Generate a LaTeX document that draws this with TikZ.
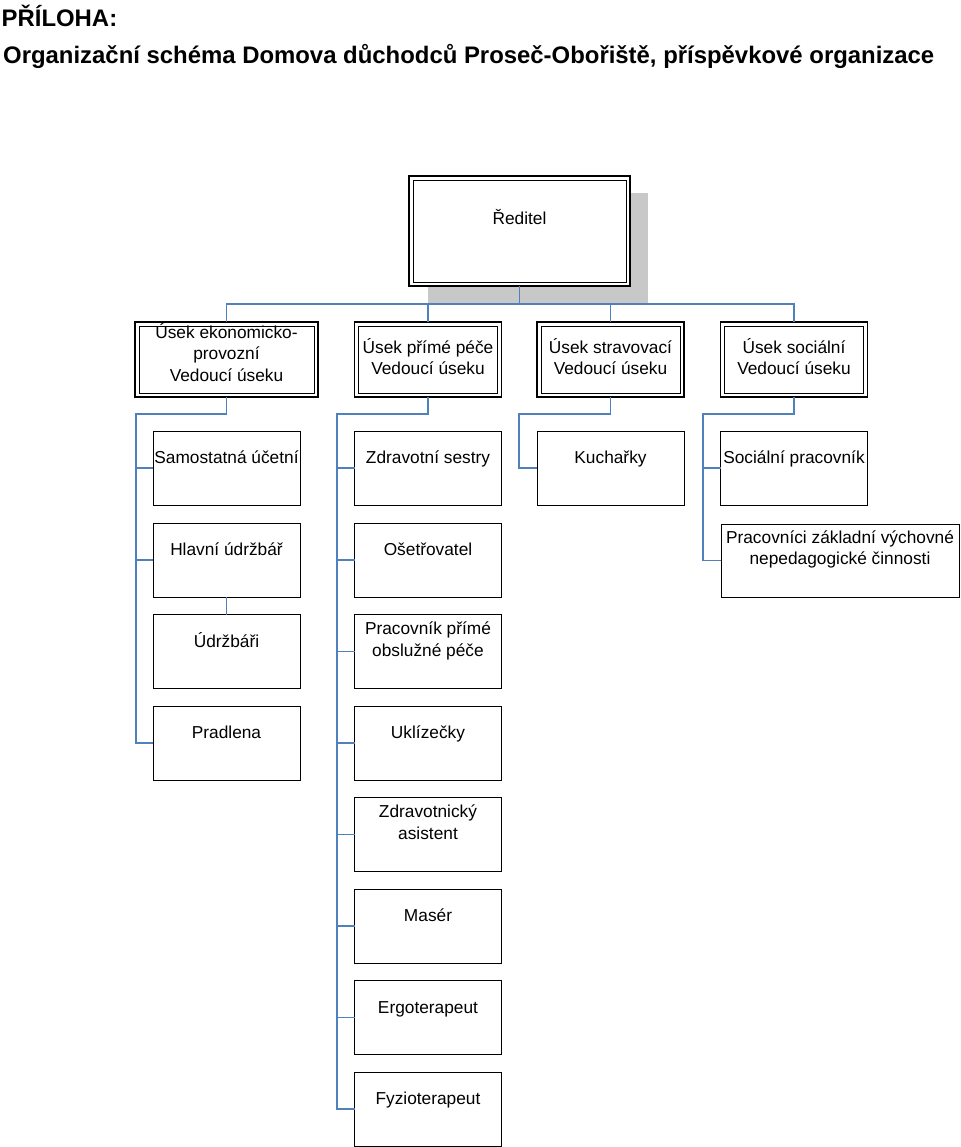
\documentclass[tikz,border=0pt]{standalone}
\usepackage{fontspec}
\setmainfont{Liberation Sans}
\usetikzlibrary{positioning}

\definecolor{linkblue}{RGB}{79,129,189}
\definecolor{shadowgray}{RGB}{200,200,200}

\tikzset{
  staffbox/.style={draw=black, line width=1pt, fill=white, minimum width=147pt, minimum height=74pt, inner sep=0pt, outer sep=0pt},
  headbox/.style={staffbox, line width=1.8pt, minimum height=75pt},
  lbl/.style={align=center, inner sep=0pt, font=\fontsize{17.3}{21.5}\selectfont},
  link/.style={draw=linkblue, line width=1.1pt},
}

\begin{document}
\begin{tikzpicture}[x=1pt,y=-1pt]
    \useasboundingbox (0,0) rectangle (960,1147);

    % Nadpis
    \node[anchor=base west, inner sep=0pt, font=\bfseries\fontsize{23.9}{28}\selectfont] (priloha) at (1.5,27) {PŘÍLOHA:};
    \node[anchor=base west, inner sep=0pt, font=\bfseries\fontsize{23.9}{28}\selectfont] (nadpis) at (3,64) {Organizační schéma Domova důchodců Proseč-Obořiště, příspěvkové organizace};

    % Stin pod reditelem
    \fill[shadowgray] (428,193) rectangle (648,303);

    % Reditel a useky
    \node[headbox, minimum width=221pt, minimum height=110pt] (reditel) at (519.5,231) {};
    \node[headbox, minimum width=183pt] (ekonom) at (226.5,359.5) {};
    \node[headbox] (pece) at (428,359.5) {};
    \node[headbox] (strava) at (610.5,359.5) {};
    \node[headbox] (social) at (794,359.5) {};
    \foreach \n in {reditel,ekonom,pece,strava,social}
        \draw[line width=0.7pt] ([shift={(4,4)}]\n.north west) rectangle ([shift={(-4,-4)}]\n.south east);

    \node[lbl, below=33pt of reditel.north] (t-reditel) {\strut Ředitel};
    \node[lbl, below=1pt of ekonom.north] (t-ekonom) {\strut Úsek ekonomicko-\\provozní\\Vedoucí úseku};
    \node[lbl, below=16pt of pece.north] (t-pece) {\strut Úsek přímé péče\\Vedoucí úseku};
    \node[lbl, below=16pt of strava.north] (t-strava) {\strut Úsek stravovací\\Vedoucí úseku};
    \node[lbl, below=16pt of social.north] (t-social) {\strut Úsek sociální\\Vedoucí úseku};

    % Usek ekonomicko-provozni
    \foreach \n/\y/\d/\t in {ucetni/468/17.5pt/{Samostatná účetní}, udrzbar/560/17.5pt/{Hlavní údržbář},
                             udrzbari/651.5/17.5pt/{Údržbáři}, pradlena/743/17.5pt/{Pradlena}} {
        \node[staffbox] (\n) at (226.5,\y) {};
        \node[lbl, below=\d of \n.north] (t-\n) {\strut\t};
    }

    % Usek prime pece
    \foreach \n/\y/\d/\t in {sestry/468/17.5pt/{Zdravotní sestry}, osetr/560/17.5pt/{Ošetřovatel},
                             obsluha/651.5/5pt/{Pracovník přímé\\obslužné péče}, uklid/743/17.5pt/{Uklízečky},
                             asistent/834.5/5pt/{Zdravotnický\\asistent}, maser/926/17.5pt/{Masér},
                             ergo/1017.5/17.5pt/{Ergoterapeut}, fyzio/1109/17.5pt/{Fyzioterapeut}} {
        \node[staffbox] (\n) at (428,\y) {};
        \node[lbl, below=\d of \n.north] (t-\n) {\strut\t};
    }

    % Usek stravovaci a socialni
    \node[staffbox] (kuchar) at (610.5,468) {};
    \node[lbl, below=17.5pt of kuchar.north] (t-kuchar) {\strut Kuchařky};
    \node[staffbox] (socprac) at (794,468) {};
    \node[lbl, below=17.5pt of socprac.north] (t-socprac) {\strut Sociální pracovník};
    \node[staffbox, minimum width=238pt, minimum height=73pt] (vychova) at (840,560.5) {};
    \node[lbl, below=4pt of vychova.north] (t-vychova) {\strut Pracovníci základní výchovné\\nepedagogické činnosti};

    % Spojnice
    \coordinate (bus) at (519.5,304);
    \draw[link] (reditel.south) -- (bus);
    \draw[link] (ekonom.north) |- (bus) -| (social.north);
    \draw[link] (pece.north) -- (pece.north |- bus);
    \draw[link] (strava.north) -- (strava.north |- bus);

    \coordinate (bar1) at (136,414);
    \draw[link] (ekonom.south) |- (bar1) |- (pradlena.west);
    \foreach \n in {ucetni,udrzbar}
        \draw[link] (bar1 |- \n.west) -- (\n.west);
    \draw[link] (udrzbar.south) -- (udrzbari.north);

    \coordinate (bar2) at (337,414);
    \draw[link] (pece.south) |- (bar2) |- (fyzio.west);
    \foreach \n in {sestry,osetr,obsluha,uklid,asistent,maser,ergo}
        \draw[link] (bar2 |- \n.west) -- (\n.west);

    \coordinate (bar3) at (519,414);
    \draw[link] (strava.south) |- (bar3) |- (kuchar.west);

    \coordinate (bar4) at (703,414);
    \draw[link] (social.south) |- (bar4) |- (vychova.west);
    \draw[link] (bar4 |- socprac.west) -- (socprac.west);

\end{tikzpicture}
\end{document}
